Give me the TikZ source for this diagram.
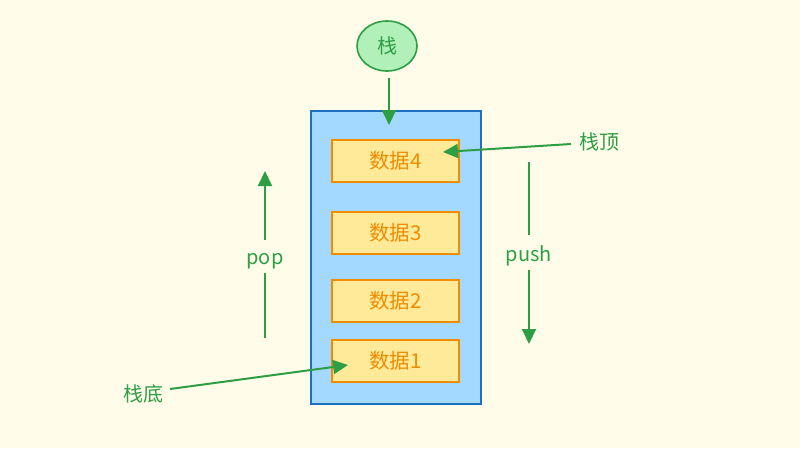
\documentclass[tikz,border=0pt]{standalone}
\usepackage{fontspec}
\setmainfont{Noto Sans CJK SC}
\usetikzlibrary{shapes.geometric,arrows.meta}
\definecolor{bgc}{RGB}{255,253,234}
\definecolor{grn}{RGB}{46,158,68}
\definecolor{grnfill}{RGB}{178,240,185}
\definecolor{stackfill}{RGB}{163,216,255}
\definecolor{stackline}{RGB}{30,111,192}
\definecolor{datafill}{RGB}{255,234,153}
\definecolor{dataline}{RGB}{240,140,0}
\definecolor{datatext}{RGB}{240,140,0}
\tikzset{
  databox/.style={draw=dataline, fill=datafill, line width=1.6pt, minimum width=127pt, minimum height=42pt, inner sep=0pt, text=datatext, font=\fontsize{20.5}{20.5}\selectfont},
  glabel/.style={text=grn, font=\fontsize{20}{20}\selectfont, inner sep=1pt},
  garrow/.style={draw=grn, line width=2pt, -{Triangle[length=15pt,width=14pt]}},
  gline/.style={draw=grn, line width=2pt}
}
\begin{document}
\begin{tikzpicture}[x=1pt,y=-1pt]
\fill[bgc] (0,0) rectangle (800,448);
\useasboundingbox (0,0) rectangle (800,448);
\node[ellipse, draw=grn, fill=grnfill, line width=1.6pt, minimum width=60pt, minimum height=50pt, inner sep=0pt, text=grn, font=\fontsize{20}{20}\selectfont] (stack) at (387,46) {栈};
\node[draw=stackline, fill=stackfill, line width=1.6pt, minimum width=170pt, minimum height=293pt, inner sep=0pt] (box) at (396,257.5) {};
\node[databox] (d4) at (395.5,161) {数据4};
\node[databox] (d3) at (395.5,233) {数据3};
\node[databox] (d2) at (395.5,301) {数据2};
\node[databox] (d1) at (395.5,361) {数据1};
\coordinate (s1) at (389,78);
\coordinate (s2) at (389,125);
\draw[garrow] (s1) -- (s2);
\node[glabel] (top) at (599,142) {栈顶};
\coordinate (topstart) at (571,144);
\coordinate (topend) at (443,152);
\draw[garrow] (topstart) -- (topend);
\node[glabel] (bottom) at (143,394) {栈底};
\coordinate (botstart) at (170,389);
\coordinate (botend) at (348,365);
\draw[garrow] (botstart) -- (botend);
\node[glabel] (push) at (529,256) {push};
\coordinate (pu1) at (529,162);
\coordinate (pu2) at (529,235);
\coordinate (pu3) at (529,270);
\coordinate (pu4) at (529,344);
\draw[gline] (pu1) -- (pu2);
\draw[garrow] (pu3) -- (pu4);
\node[glabel] (pop) at (265,261) {pop};
\coordinate (po1) at (265,338);
\coordinate (po2) at (265,273);
\coordinate (po3) at (265,240);
\coordinate (po4) at (265,171);
\draw[gline] (po1) -- (po2);
\draw[garrow] (po3) -- (po4);
\end{tikzpicture}
\end{document}
